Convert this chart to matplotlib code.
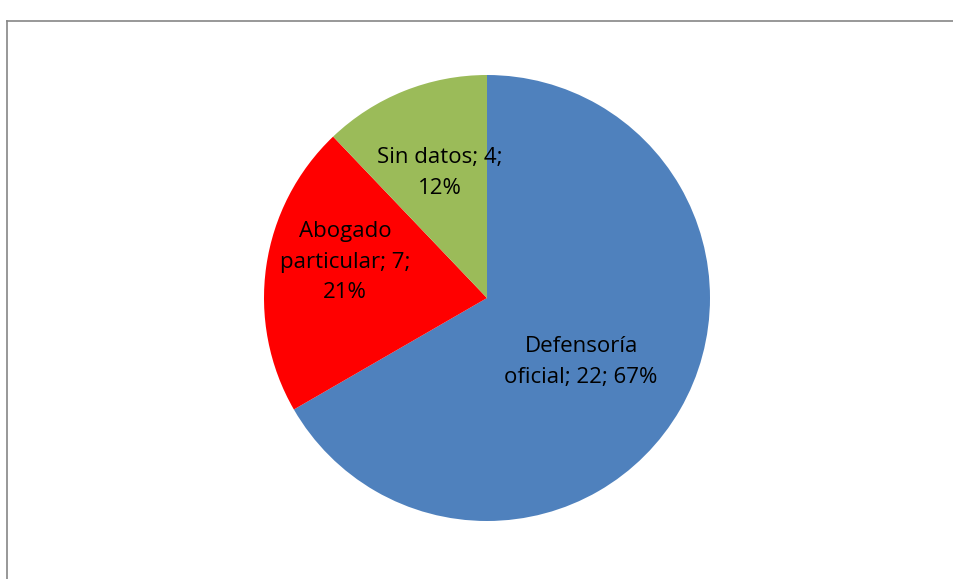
import numpy as np
import matplotlib.pyplot as plt

categories = ['Defensoría oficial', 'Abogado particular', 'Sin datos']
values = [22, 7, 4]
colors = ['#4F81BD', '#FF0000', '#9BBB59']
# label text, with line breaks as in the original chart
label_texts = ['Defensoría\noficial; 22; 67%', 'Abogado\nparticular; 7;\n21%', 'Sin datos; 4;\n12%']

W, H = 954, 579
cx, cy, R = 487, H - 298, 223

fig = plt.figure(figsize=(W / 100, H / 100), dpi=100)
ax = fig.add_axes([0, 0, 1, 1])

wedges, _ = ax.pie(values, colors=colors, startangle=90, counterclock=False,
                   center=(cx, cy), radius=R,
                   wedgeprops=dict(linewidth=0))
ax.set_xlim(0, W)
ax.set_ylim(0, H)
ax.set_aspect('equal')
ax.axis('off')

# label placement: fraction of radius and angle tweak per slice
dist = [0.51, 0.657, 0.6]
shift = [-4.2, -6.0, -1.2]
for w, t, r, s in zip(wedges, label_texts, dist, shift):
    ang = np.deg2rad((w.theta1 + w.theta2) / 2 + s)
    ax.text(cx + R * r * np.cos(ang), cy + R * r * np.sin(ang), t,
            ha='center', va='center', fontsize=16,
            family='Open Sans', linespacing=1.6)

# chart frame
ax.plot([7.5, 7.5], [0, H - 20.5], color='#868686', lw=1.2)
ax.plot([7.5, W], [H - 20.5, H - 20.5], color='#868686', lw=1.2)

fig.savefig('out.png', dpi=100)
